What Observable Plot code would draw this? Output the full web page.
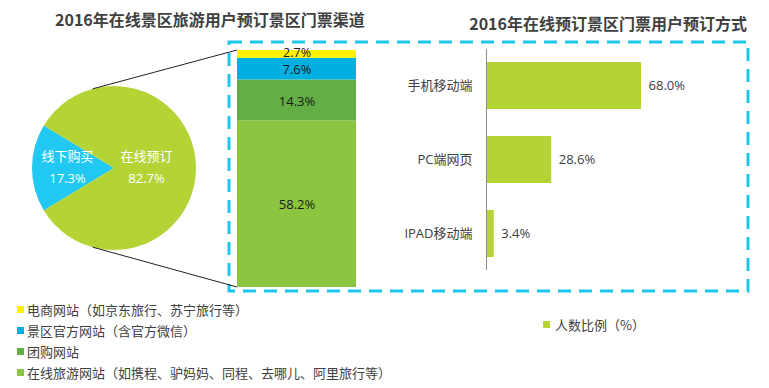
<!DOCTYPE html>
<html><head><meta charset="utf-8">
<script src="https://cdn.jsdelivr.net/npm/d3@7"></script>
<script src="https://cdn.jsdelivr.net/npm/@observablehq/plot@0.6"></script>
<style>
body{margin:0;background:#fff;}
#root{position:relative;width:769px;height:388px;overflow:hidden;font-family:"Open Sans","Noto Sans CJK SC",sans-serif;}
.abs{position:absolute;}
.title{font-family:"Noto Sans CJK SC",sans-serif;font-weight:bold;font-size:16px;color:#404040;white-space:nowrap;line-height:16px;}
.leg{font-family:"Noto Sans CJK SC",sans-serif;font-size:13px;color:#404040;white-space:nowrap;display:flex;align-items:center;line-height:13px;height:13px;}
.sw{width:7px;height:7px;margin-right:3px;flex:none;}
</style></head><body><div id="root"></div>
<script>
// ---- data ----
const title1 = "2016年在线景区旅游用户预订景区门票渠道";
const title2 = "2016年在线预订景区门票用户预订方式";
const pieNames = ["线下购买", "在线预订"];
const pieValues = [17.3, 82.7];
const pieColors = ["#21C8F1", "#B4D334"];
const channelNames = ["电商网站（如京东旅行、苏宁旅行等）", "景区官方网站（含官方微信）", "团购网站", "在线旅游网站（如携程、驴妈妈、同程、去哪儿、阿里旅行等）"];
const channelValues = [2.7, 7.6, 14.3, 58.2];
const channelColors = ["#FFF200", "#00B0E0", "#63AF45", "#8CC540"];
const wayNames = ["手机移动端", "PC端网页", "IPAD移动端"];
const wayValues = [68.0, 28.6, 3.4];
const wayColor = "#B4D334";
const wayLegend = "人数比例（%）";

const root = d3.select("#root");
const font = '"Open Sans","Noto Sans CJK SC",sans-serif';

// ---- pie ----
const pieData = pieNames.map((n, i) => ({name: n, value: pieValues[i], color: pieColors[i]}));
const pieTotal = d3.sum(pieValues);
const span0 = 2 * Math.PI * pieValues[0] / pieTotal;
const start = 1.5 * Math.PI - span0 / 2;
const arcs = d3.pie().value(d => d.value).sort(null).startAngle(start).endAngle(start + 2 * Math.PI)(pieData);
const unitArc = d3.arc().innerRadius(0).outerRadius(1);
arcs.forEach(a => { const c = unitArc.centroid(a); a.data.cx = c[0]; a.data.cy = -c[1]; });
const R = 100 / 82;
function pieMark(index, scales) {
  const cx = scales.x(0), cy = scales.y(0), r = scales.x(1) - scales.x(0);
  const arc = d3.arc().innerRadius(0).outerRadius(r);
  const g = d3.create("svg:g").attr("transform", `translate(${cx},${cy})`);
  g.selectAll("path").data(arcs).join("path").attr("d", arc).attr("fill", d => d.data.color);
  return g.node();
}
const pieLabel = d => d.name + "\n" + d.value.toFixed(1) + "%";
const pie = Plot.plot({
  width: 200, height: 200, margin: 0,
  x: {domain: [-R, R], axis: null},
  y: {domain: [-R, R], axis: null},
  style: {background: "transparent", overflow: "visible", fontFamily: font},
  marks: [
    pieMark,
    Plot.text([pieData[0]], {x: "cx", y: "cy", text: pieLabel, fill: "#fff", fontSize: 13, lineHeight: 1.7, dx: -6, dy: -4}),
    Plot.text([pieData[1]], {x: "cx", y: "cy", text: pieLabel, fill: "#fff", fontSize: 13, lineHeight: 1.7, dx: -9, dy: -4})
  ]
});
const pieLeft = 14, pieTop = 68;
root.append(() => pie).attr("class", "abs").style("left", pieLeft + "px").style("top", pieTop + "px");

// ---- stacked bar ----
const chData = channelNames.map((n, i) => ({name: n, value: channelValues[i]}));
const chTotal = d3.sum(channelValues);
const pct = d => d.value.toFixed(1) + "%";
const stack = Plot.plot({
  width: 119, height: 237, margin: 0,
  y: {domain: [0, chTotal], axis: null},
  color: {domain: channelNames, range: channelColors},
  style: {background: "transparent", overflow: "visible", fontFamily: font},
  marks: [
    Plot.rectY(chData, Plot.stackY({y: "value", fill: "name", reverse: true})),
    Plot.text(chData, Plot.stackY({y: "value", reverse: true, text: d => d.value < 5 ? pct(d) : null, fill: "#1a1a1a", fontSize: 12.5, dy: -1})),
    Plot.text(chData, Plot.stackY({y: "value", reverse: true, text: d => d.value >= 5 ? pct(d) : null, fill: "#1a1a1a", fontSize: 13, dy: 1}))
  ]
});
const stLeft = 237, stTop = 50;
root.append(() => stack).attr("class", "abs").style("left", stLeft + "px").style("top", stTop + "px");

// ---- horizontal bars ----
const wayData = wayNames.map((n, i) => ({name: n, value: wayValues[i]}));
const hbar = Plot.plot({
  width: 370, height: 221, marginLeft: 106, marginRight: 36, marginTop: 0, marginBottom: 0,
  x: {domain: [0, 100], axis: null},
  y: {domain: wayNames, paddingInner: 0.37, paddingOuter: 0.16, label: null},
  style: {background: "transparent", overflow: "visible", fontFamily: font, fontSize: "13px", color: "#404040"},
  marks: [
    Plot.barX(wayData, {y: "name", x: "value", fill: wayColor}),
    Plot.ruleX([0], {stroke: "#8c8c8c", strokeWidth: 1}),
    Plot.text(wayData, {y: "name", x: "value", text: pct, textAnchor: "start", dx: 7, fill: "#404040", fontSize: 13}),
    Plot.axisY({tickSize: 0, tickPadding: 14, fontSize: 13, label: null})
  ]
});
root.append(() => hbar).attr("class", "abs").style("left", "380px").style("top", "49px");

// ---- overlay: dashed box + connectors ----
const px = pie.scale("x"), py = pie.scale("y");
const sy = stack.scale("y");
const ang = 15 * Math.PI / 180;
const topPt = [pieLeft + px.apply(-Math.sin(ang)), pieTop + py.apply(Math.cos(ang))];
const botPt = [pieLeft + px.apply(-Math.sin(ang)), pieTop + py.apply(-Math.cos(ang))];
const barTop = [stLeft, stTop + sy.apply(chTotal)];
const barBot = [stLeft, stTop + sy.apply(0)];
const ov = root.append("svg").attr("class", "abs").attr("width", 769).attr("height", 388)
  .style("left", 0).style("top", 0).style("pointer-events", "none");
ov.append("rect").attr("x", 229).attr("y", 42).attr("width", 519).attr("height", 249)
  .attr("fill", "none").attr("stroke", "#1CC6F0").attr("stroke-width", 3).attr("stroke-dasharray", "13,8");
ov.append("line").attr("x1", topPt[0]).attr("y1", topPt[1]).attr("x2", barTop[0]).attr("y2", barTop[1]).attr("stroke", "#222").attr("stroke-width", 1);
ov.append("line").attr("x1", botPt[0]).attr("y1", botPt[1]).attr("x2", barBot[0]).attr("y2", barBot[1]).attr("stroke", "#222").attr("stroke-width", 1);

// ---- titles ----
root.append("div").attr("class", "abs title").style("left", "55px").style("top", "11px").text(title1);
root.append("div").attr("class", "abs title").style("right", "22px").style("top", "15px").text(title2);

// ---- legends ----
const legTops = [303, 324, 345, 366];
channelNames.forEach((n, i) => {
  const d = root.append("div").attr("class", "abs leg").style("left", "17px").style("top", legTops[i] + "px");
  d.append("div").attr("class", "sw").style("background", channelColors[i]);
  d.append("span").text(n);
});
const l2 = root.append("div").attr("class", "abs leg").style("left", "543px").style("top", "318px");
l2.append("div").attr("class", "sw").style("background", wayColor).style("margin-right", "5px");
l2.append("span").text(wayLegend);
</script></body></html>
